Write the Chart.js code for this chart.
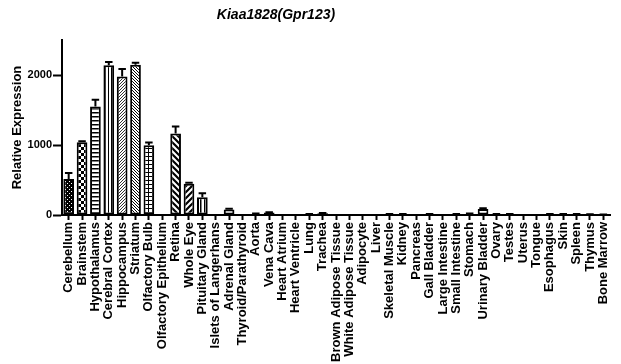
<!DOCTYPE html>
<html>
<head>
<meta charset="utf-8">
<script src="https://cdn.jsdelivr.net/npm/chart.js@4.4.1/dist/chart.umd.min.js"></script>
<style>
  html, body { margin: 0; padding: 0; background: #fff; }
  #wrap { width: 621px; height: 364px; position: relative; }
</style>
</head>
<body>
<div id="wrap"><canvas id="chart"></canvas></div>
<script>
const chartTitle = "Kiaa1828(Gpr123)";
const yTitle = "Relative Expression";

const tissues = [
    "Cerebellum", "Brainstem", "Hypothalamus", "Cerebral Cortex", "Hippocampus",
    "Striatum", "Olfactory Bulb", "Olfactory Epithelium", "Retina", "Whole Eye",
    "Pituitary Gland", "Islets of Langerhans", "Adrenal Gland", "Thyroid/Parathyroid",
    "Aorta", "Vena Cava", "Heart Atrium", "Heart Ventricle", "Lung", "Trachea",
    "Brown Adipose Tissue", "White Adipose Tissue", "Adipocyte", "Liver",
    "Skeletal Muscle", "Kidney", "Pancreas", "Gall Bladder", "Large Intestine",
    "Small Intestine", "Stomach", "Urinary Bladder", "Ovary", "Testes", "Uterus",
    "Tongue", "Esophagus", "Skin", "Spleen", "Thymus", "Bone Marrow"
];

const expression = [
    515, 1040, 1550, 2140, 1980, 2145, 995, 5, 1165, 445,
    255, 5, 80, 5, 15, 35, 3, 3, 10, 25,
    3, 3, 3, 3, 10, 10, 3, 10, 3, 10,
    15, 85, 10, 12, 3, 3, 10, 12, 12, 8, 5
];

const sem = [
    85, 15, 95, 45, 105, 30, 40, 0, 100, 15,
    55, 0, 10, 0, 5, 5, 0, 0, 3, 5,
    0, 0, 0, 0, 3, 3, 0, 3, 0, 3,
    5, 10, 3, 3, 0, 0, 3, 3, 3, 3, 2
];

const yTicks = [0, 1000, 2000];

// fill patterns, one per bar (GraphPad style)
function tile(size, draw) {
    const c = document.createElement("canvas");
    c.width = size; c.height = size;
    const g = c.getContext("2d");
    g.fillStyle = "#fff";
    g.fillRect(0, 0, size, size);
    g.fillStyle = "#000";
    g.strokeStyle = "#000";
    draw(g, size);
    return c;
}

function diag(size, width, back) {
    return tile(size, (g, s) => {
        g.lineWidth = width;
        g.beginPath();
        if (back) {
            g.moveTo(-1, -1); g.lineTo(s + 1, s + 1);
            g.moveTo(-1, s - 1); g.lineTo(1, s + 1);
            g.moveTo(s - 1, -1); g.lineTo(s + 1, 1);
        } else {
            g.moveTo(-1, s + 1); g.lineTo(s + 1, -1);
            g.moveTo(-1, 1); g.lineTo(1, -1);
            g.moveTo(s - 1, s + 1); g.lineTo(s + 1, s - 1);
        }
        g.stroke();
    });
}

const ctx = document.getElementById("chart").getContext("2d");

const tiles = {
    dots: tile(4, (g) => {
        g.fillRect(0, 0, 4, 4);
        g.fillStyle = "#fff";
        g.fillRect(1, 1, 1, 1);
        g.fillRect(3, 3, 1, 1);
    }),
    checker: tile(6, (g) => {
        g.fillRect(0, 0, 3, 3);
        g.fillRect(3, 3, 3, 3);
    }),
    hlines: tile(4, (g) => { g.fillRect(0, 0, 4, 1.5); }),
    vlines: tile(3, (g) => { g.fillRect(0, 0, 1, 3); }),
    vlines4: tile(4, (g) => { g.fillRect(0, 0, 1.5, 4); }),
    fwdThin: diag(3, 0.8, false),
    backThin: diag(3, 1, true),
    grid: tile(4, (g) => { g.fillRect(0, 0, 4, 1); g.fillRect(0, 0, 1, 4); }),
    backThick: diag(6, 2.2, true),
    fwdThick: diag(6, 2.2, false),
    blank: tile(4, () => {})
};

const fillOrder = [
    "dots", "checker", "hlines", "vlines", "fwdThin", "backThin", "grid", "blank",
    "backThick", "fwdThick", "vlines4", "blank", "blank"
];

const fills = tissues.map((t, i) => ctx.createPattern(tiles[fillOrder[i] || "blank"], "repeat"));

const errorBars = {
    id: "errorBars",
    afterDatasetsDraw(chart) {
        const meta = chart.getDatasetMeta(0);
        const y = chart.scales.y;
        const c = chart.ctx;
        c.save();
        c.strokeStyle = "#000";
        c.lineWidth = 2;
        meta.data.forEach((bar, i) => {
            if (!sem[i]) return;
            const top = y.getPixelForValue(expression[i] + sem[i]);
            const half = bar.width * 0.35;
            c.beginPath();
            c.moveTo(bar.x, bar.y);
            c.lineTo(bar.x, top);
            c.moveTo(bar.x - half, top);
            c.lineTo(bar.x + half, top);
            c.stroke();
        });
        c.restore();
    }
};

const titleText = {
    id: "titleText",
    afterDraw(chart) {
        const c = chart.ctx;
        c.save();
        c.font = "italic bold 14px 'Liberation Sans', Arial, sans-serif";
        c.fillStyle = "#000";
        c.textAlign = "center";
        c.textBaseline = "middle";
        c.fillText(chartTitle, 276, 15);
        c.restore();
    }
};

Chart.defaults.font.family = "'Liberation Sans', Arial, sans-serif";
Chart.defaults.font.weight = "bold";
Chart.defaults.color = "#000";

new Chart(ctx, {
    type: "bar",
    data: {
        labels: tissues,
        datasets: [{
            data: expression,
            backgroundColor: fills,
            borderColor: "#000",
            borderWidth: 2,
            borderSkipped: false,
            categoryPercentage: 0.8,
            barPercentage: 1
        }]
    },
    options: {
        responsive: true,
        maintainAspectRatio: false,
        animation: false,
        layout: { padding: { top: 40, right: 4, left: 0, bottom: 0 } },
        plugins: {
            legend: { display: false },
            tooltip: { enabled: false }
        },
        scales: {
            x: {
                afterFit: (s) => { s.height = 149; },
                grid: {
                    drawOnChartArea: false,
                    drawTicks: true,
                    tickLength: 5,
                    tickWidth: 2,
                    tickColor: "#000",
                    offset: false
                },
                border: { display: true, color: "#000", width: 2 },
                ticks: {
                    autoSkip: false,
                    maxRotation: 90,
                    minRotation: 90,
                    padding: 2,
                    font: { size: 13, weight: "bold" }
                }
            },
            y: {
                min: 0,
                max: 2500,
                afterFit: (s) => { s.width = 62; },
                afterBuildTicks: (s) => { s.ticks = yTicks.map(v => ({ value: v })); },
                grid: {
                    drawOnChartArea: false,
                    drawTicks: true,
                    tickLength: 9,
                    tickWidth: 2,
                    tickColor: "#000"
                },
                border: { display: true, color: "#000", width: 2 },
                ticks: {
                    padding: 1,
                    font: { size: 11, weight: "bold" },
                    callback: (v) => String(v)
                },
                title: {
                    display: true,
                    text: yTitle,
                    padding: { top: 10, bottom: 4 },
                    font: { size: 13, weight: "bold" }
                }
            }
        }
    },
    plugins: [errorBars, titleText]
});
</script>
</body>
</html>
